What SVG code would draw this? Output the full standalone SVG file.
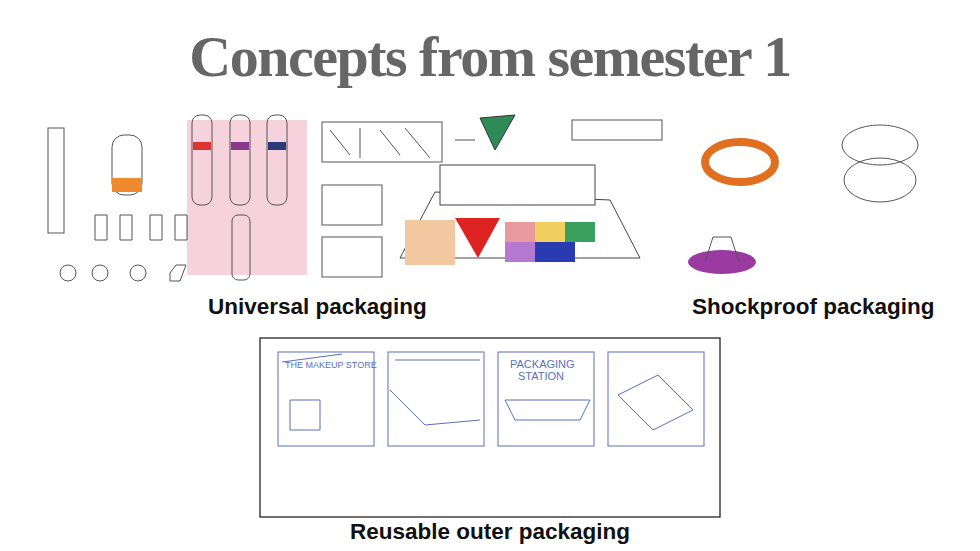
<svg xmlns="http://www.w3.org/2000/svg" width="980" height="551" viewBox="0 0 980 551">
<style>
.t{font-family:"Liberation Serif",serif;font-weight:bold;fill:#666}
.l{font-family:"Liberation Sans",Arial,sans-serif;font-weight:bold;fill:#111;font-size:22.5px}
.s{fill:none;stroke:#555;stroke-width:1}
.b{fill:none;stroke:#5a6fc0;stroke-width:1}
</style>
<rect width="980" height="551" fill="#fff"/>
<text class="t" x="490" y="76" font-size="58" letter-spacing="-1.5" text-anchor="middle">Concepts from semester 1</text>
<g id="universal">
<rect x="187" y="120" width="120" height="155" fill="#f6d2dc"/>
<rect x="48" y="128" width="16" height="105" class="s"/>
<rect x="112" y="135" width="30" height="60" rx="12" class="s"/>
<rect x="112" y="178" width="30" height="14" fill="#f08a2e"/>
<g class="s"><rect x="192" y="115" width="20" height="90" rx="8"/><rect x="230" y="115" width="20" height="90" rx="8"/><rect x="267" y="115" width="20" height="90" rx="8"/><rect x="232" y="215" width="18" height="65" rx="6"/></g>
<rect x="193" y="142" width="18" height="8" fill="#d33"/><rect x="231" y="142" width="18" height="8" fill="#8b3a8b"/><rect x="268" y="142" width="18" height="8" fill="#2a3a7a"/>
<g class="s"><circle cx="68" cy="273" r="8"/><circle cx="100" cy="273" r="8"/><circle cx="138" cy="273" r="8"/><path d="M170 273l6-8h10l-6 16h-10z"/>
<path d="M95 215h12v25h-12z"/><path d="M120 215h12v25h-12z"/><path d="M150 215h12v25h-12z"/><path d="M175 215h12v25h-12z"/></g>
<rect x="322" y="122" width="120" height="40" class="s"/>
<path d="M330 130l20 25M360 128v30M380 130l20 25M405 128l25 30" class="s"/>
<rect x="322" y="185" width="60" height="40" class="s"/><rect x="322" y="237" width="60" height="40" class="s"/>
<path d="M455 140h20" class="s"/>
<polygon points="480,118 515,115 495,150" fill="#2e8b57" stroke="#333"/>
<rect x="572" y="120" width="90" height="20" class="s"/>
<polygon points="400,258 640,258 610,200 435,192" fill="#fff" stroke="#444"/>
<rect x="440" y="165" width="155" height="40" fill="#fff" stroke="#444"/>
<rect x="405" y="220" width="50" height="45" fill="#f2c8a0"/>
<polygon points="455,218 500,218 478,258" fill="#d22"/>
<rect x="505" y="222" width="30" height="20" fill="#e89aa0"/><rect x="535" y="222" width="30" height="20" fill="#f2d060"/>
<rect x="505" y="242" width="30" height="20" fill="#b57ad0"/><rect x="535" y="242" width="40" height="20" fill="#2a3ab0"/>
<rect x="565" y="222" width="30" height="20" fill="#3aa060"/>
</g>
<g id="shockproof">
<ellipse cx="740" cy="162" rx="35" ry="20" fill="none" stroke="#e07020" stroke-width="8"/>
<ellipse cx="722" cy="262" rx="34" ry="12" fill="#9a3aa0"/>
<path d="M705 262l8-25h18l8 25" class="s"/>
<ellipse cx="880" cy="145" rx="38" ry="20" class="s"/>
<ellipse cx="880" cy="180" rx="36" ry="22" class="s"/>
</g>
<text class="l" x="208" y="314">Universal packaging</text>
<text class="l" x="692" y="314">Shockproof packaging</text>
<g id="storyboard">
<rect x="260" y="338" width="460" height="179" fill="#fff" stroke="#111" stroke-width="1.2"/>
<g class="b"><rect x="278" y="352" width="96" height="94"/><rect x="388" y="352" width="96" height="94"/><rect x="498" y="352" width="96" height="94"/><rect x="608" y="352" width="96" height="94"/>
<path d="M282 362l60-8M290 400h30v30h-30zM390 390l35 35 55-5M395 360h85M505 400h85l-10 20h-65zM618 395l40-20 35 35-40 20z"/></g>
<text x="285" y="368" font-family="Liberation Sans,sans-serif" font-size="9" fill="#5a6fc0">THE MAKEUP STORE</text>
<text x="510" y="368" font-family="Liberation Sans,sans-serif" font-size="11" fill="#5a6fc0">PACKAGING</text>
<text x="518" y="380" font-family="Liberation Sans,sans-serif" font-size="11" fill="#5a6fc0">STATION</text>
</g>
<text class="l" x="490" y="539" text-anchor="middle">Reusable outer packaging</text>
</svg>
